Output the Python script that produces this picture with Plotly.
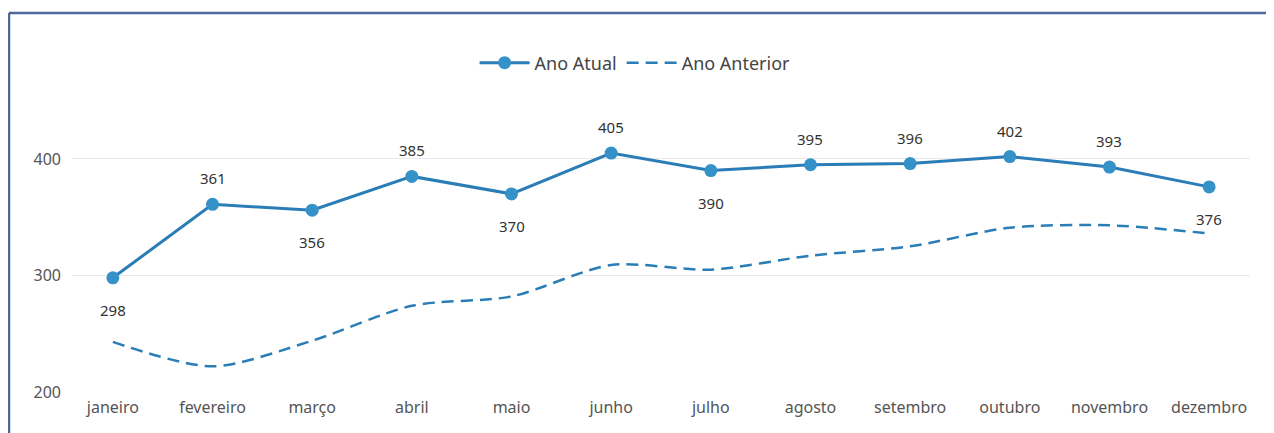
import plotly.graph_objects as go

months = ["janeiro", "fevereiro", "março", "abril", "maio", "junho",
          "julho", "agosto", "setembro", "outubro", "novembro", "dezembro"]
ano_atual = [298, 361, 356, 385, 370, 405, 390, 395, 396, 402, 393, 376]
ano_anterior = [243, 222, 244, 274, 282, 309, 305, 317, 325, 341, 343, 336]
label_pos = ["below", "above", "below", "above", "below", "above",
             "below", "above", "above", "above", "above", "below"]
y_ticks = [200, 300, 400]

FONT = "Noto Sans"
LINE_C = "#2a7db6"
MARK_C = "#3592c9"

fig = go.Figure()
fig.add_trace(go.Scatter(
    x=months, y=ano_atual, name="Ano Atual", mode="lines+markers",
    line=dict(color=LINE_C, width=3),
    marker=dict(color=MARK_C, size=13),
))
fig.add_trace(go.Scatter(
    x=months, y=ano_anterior, name="Ano Anterior", mode="lines",
    line=dict(color=LINE_C, width=2.5, dash="12px,7px", shape="spline", smoothing=0.8),
))

for m, v, p in zip(months, ano_atual, label_pos):
    fig.add_annotation(
        x=m, y=v, text=str(v), showarrow=False,
        yshift=26 if p == "above" else -32,
        font=dict(family=FONT, size=15, color="#333333"),
    )

# frame (top and left border of the card)
fig.add_shape(type="line", xref="paper", yref="paper",
              x0=-0.0535, x1=1.02, y0=1.2508, y1=1.2508,
              line=dict(color="#4d6899", width=2.5))
fig.add_shape(type="line", xref="paper", yref="paper",
              x0=-0.0535, x1=-0.0535, y0=1.2508, y1=-0.2,
              line=dict(color="#4d6899", width=2.5))

fig.update_layout(
    width=1266, height=425,
    margin=dict(l=64, r=24, t=81, b=41),
    paper_bgcolor="white", plot_bgcolor="white",
    font=dict(family=FONT, size=16, color="#555555"),
    showlegend=True,
    legend=dict(orientation="h", x=0.478, xanchor="center", y=1.086, yanchor="middle",
                font=dict(family=FONT, size=18, color="#444444"),
                itemwidth=50, bgcolor="rgba(0,0,0,0)"),
    xaxis=dict(type="category", range=[-0.41, 11.41], showgrid=False, zeroline=False,
               showline=False, ticks="", ticklabelstandoff=4,
               tickfont=dict(family=FONT, size=16, color="#555555")),
    yaxis=dict(range=[200, 460], tickvals=y_ticks, showgrid=True, gridcolor="#e9e9e9",
               gridwidth=1, zeroline=False, showline=False, ticks="",
               ticklabelstandoff=10,
               tickfont=dict(family=FONT, size=16, color="#555555")),
)

fig.write_html("out.html")
